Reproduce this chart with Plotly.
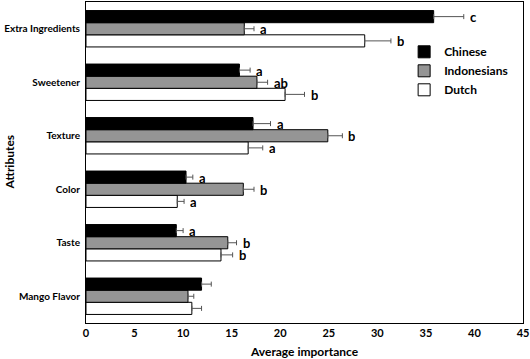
import plotly.graph_objects as go

# categories top -> bottom as shown
categories = ["Extra Ingredients", "Sweetener", "Texture", "Color", "Taste", "Mango Flavor"]
chinese = [35.8, 15.8, 17.2, 10.3, 9.3, 11.9]
chinese_err = [3.1, 1.1, 1.8, 0.7, 0.7, 1.0]
indonesians = [16.3, 17.6, 24.9, 16.2, 14.6, 10.5]
indonesians_err = [1.0, 1.1, 1.5, 1.1, 0.9, 0.6]
dutch = [28.7, 20.5, 16.7, 9.4, 13.9, 10.9]
dutch_err = [2.7, 2.0, 1.5, 0.7, 1.2, 1.0]
chinese_lbl = ["c", "a", "a", "a", "a", ""]
indonesians_lbl = ["a", "ab", "b", "b", "b", ""]
dutch_lbl = ["b", "b", "a", "a", "b", ""]
x_ticks = [0, 5, 10, 15, 20, 25, 30, 35, 40, 45]

FONT = "Lato"
cat_order = list(reversed(categories))

fig = go.Figure()
series = [
    ("Dutch", dutch, dutch_err, dutch_lbl, "white", -1),
    ("Indonesians", indonesians, indonesians_err, indonesians_lbl, "#959595", 0),
    ("Chinese", chinese, chinese_err, chinese_lbl, "black", 1),
]
for name, vals, err, lbl, col, pos in series:
    fig.add_trace(go.Bar(
        y=categories, x=vals, name=name, orientation="h",
        marker=dict(color=col, line=dict(color="black", width=1)),
        error_x=dict(type="data", array=err, arrayminus=[0] * len(err),
                     color="#555555", thickness=1, width=2.5),
    ))
    for c, v, e, l in zip(categories, vals, err, lbl):
        if l:
            fig.add_annotation(x=v + e, y=c, text="<b>%s</b>" % l, showarrow=False,
                               xanchor="left", xshift=4, yshift=pos * 12.1, height=11,
                               font=dict(family=FONT, size=13, color="black"))

fig.add_annotation(text="<b>Average importance</b>", xref="paper", yref="paper",
                   x=0.5, y=0, yshift=-28, xanchor="center", yanchor="middle", showarrow=False,
                   font=dict(family=FONT, size=12, color="black"))
fig.add_annotation(text="<b>Attributes</b>", xref="paper", yref="paper",
                   x=0, xshift=-77, y=0.5, xanchor="center", yanchor="middle", textangle=-90,
                   showarrow=False, font=dict(family=FONT, size=12, color="black"))

fig.update_layout(
    width=530, height=359,
    margin=dict(l=86, r=7, t=2, b=36),
    barmode="group", bargap=0.32, bargroupgap=0,
    plot_bgcolor="white", paper_bgcolor="white",
    font=dict(family=FONT, color="black"),
    showlegend=True,
    legend=dict(x=0.728, y=0.89, xanchor="left", yanchor="top", traceorder="reversed",
                font=dict(family=FONT, size=12, color="black", weight="bold"),
                itemwidth=30, tracegroupgap=0, bgcolor="rgba(0,0,0,0)"),
    xaxis=dict(range=[0, 45], tickvals=x_ticks, showline=True, linecolor="black", linewidth=1,
               mirror=True, showgrid=False, zeroline=False, ticks="", automargin=False,
               tickfont=dict(family=FONT, size=11, color="black", weight="bold")),
    yaxis=dict(categoryorder="array", categoryarray=cat_order, showline=True, linecolor="black",
               linewidth=1, mirror=True, showgrid=False, ticks="", automargin=False,
               ticklabelstandoff=3,
               tickfont=dict(family=FONT, size=10, color="black", weight="bold")),
)
fig.write_html("out.html", config={"displayModeBar": False},
               post_script="document.body.style.margin='0';")
